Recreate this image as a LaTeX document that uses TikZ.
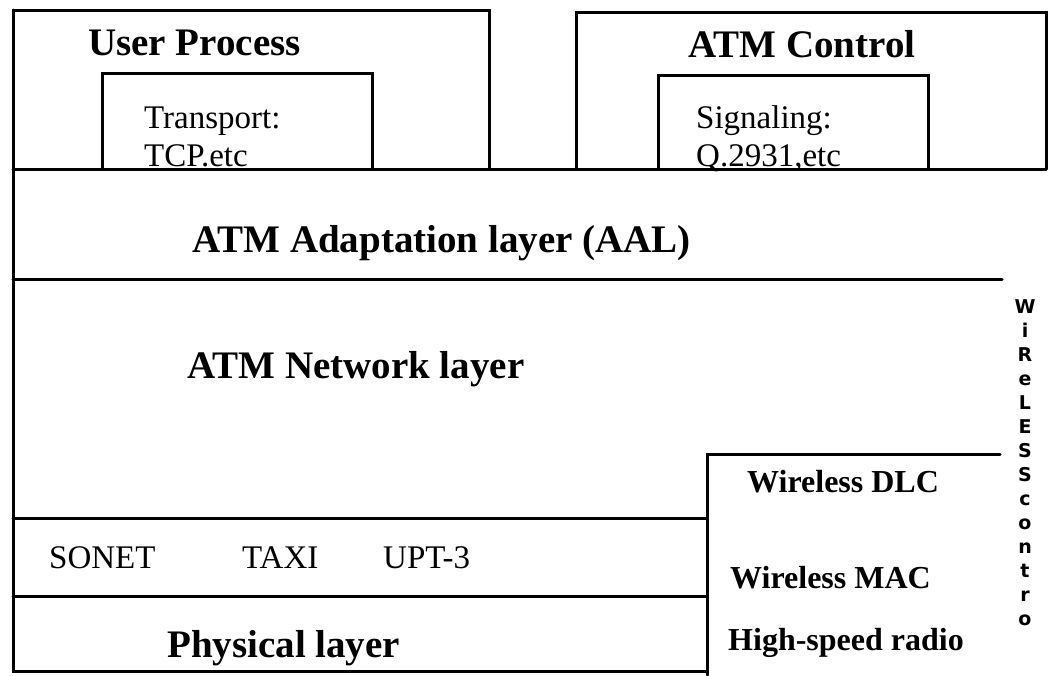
\documentclass[tikz,border=0pt]{standalone}
\usepackage{fontspec}
\setmainfont{Liberation Serif}
\newfontfamily\lettersfont{DejaVu Sans}
\begin{document}
\begin{tikzpicture}[x=1pt,y=-1pt,
  rule/.style={line width=3pt,line cap=round,line join=miter},
  heading/.style={font=\fontsize{39}{46}\selectfont\bfseries,inner sep=0pt,anchor=base west},
  plain/.style={font=\fontsize{33}{38}\selectfont,inner sep=0pt,anchor=base west},
  wlabel/.style={font=\fontsize{32}{38}\selectfont\bfseries,inner sep=0pt,anchor=base west},
  vletters/.style={font=\lettersfont\fontsize{19}{24}\selectfont\bfseries,inner sep=0pt,align=center,anchor=north}]
\useasboundingbox (0,0) rectangle (1048,675);

% labels (set first so that the layer rules run over their descenders)
\node[heading] (up) at (88,55) {User Process};
\node[plain] (tr) at (144,128) {Transport:};
\node[plain] (tcp) at (144,166) {TCP.etc};
\node[heading] (ctl) at (688,57) {ATM Control};
\node[plain] (sig) at (696,128) {Signaling:};
\node[plain] (q) at (696,166) {Q.2931,etc};
\node[heading] (aal) at (192,252) {ATM Adaptation layer (AAL)};
\node[heading] (net) at (187,378) {ATM Network layer};
\node[plain] (sonet) at (49,568) {SONET};
\node[plain] (taxi) at (242,568) {TAXI};
\node[plain] (upt) at (383,568) {UPT-3};
\node[heading] (phy) at (167,657) {Physical layer};
\node[wlabel] (dlc) at (747,492) {Wireless DLC};
\node[wlabel] (mac) at (730,588) {Wireless MAC};
\node[wlabel] (radio) at (728,650) {High-speed radio};
\node[vletters] (wctl) at (1025,299) {W\\i\\R\\e\\L\\E\\S\\S\\c\\o\\n\\t\\r\\o};

% upper boxes: user process and ATM control with their inner boxes
\draw[rule] (13,169) |- (489,10) -- (489,169);
\draw[rule] (102,169) |- (372,73) -- (372,169);
\draw[rule] (576,169) |- (1046,12) -- (1046,169);
\draw[rule] (658,169) |- (928,75) -- (928,169);

% layer boundaries
\draw[rule] (13,169) -- (1046,169);
\draw[rule] (13,279) -- (1002,279);
\draw[rule] (13,10) -- (13,671) -- (707,671);
\draw[rule] (13,518) -- (707,518);
\draw[rule] (13,596) -- (707,596);

% wireless stack
\draw[rule] (707,675) -- (707,454) -- (1000,454);
\end{tikzpicture}
\end{document}
